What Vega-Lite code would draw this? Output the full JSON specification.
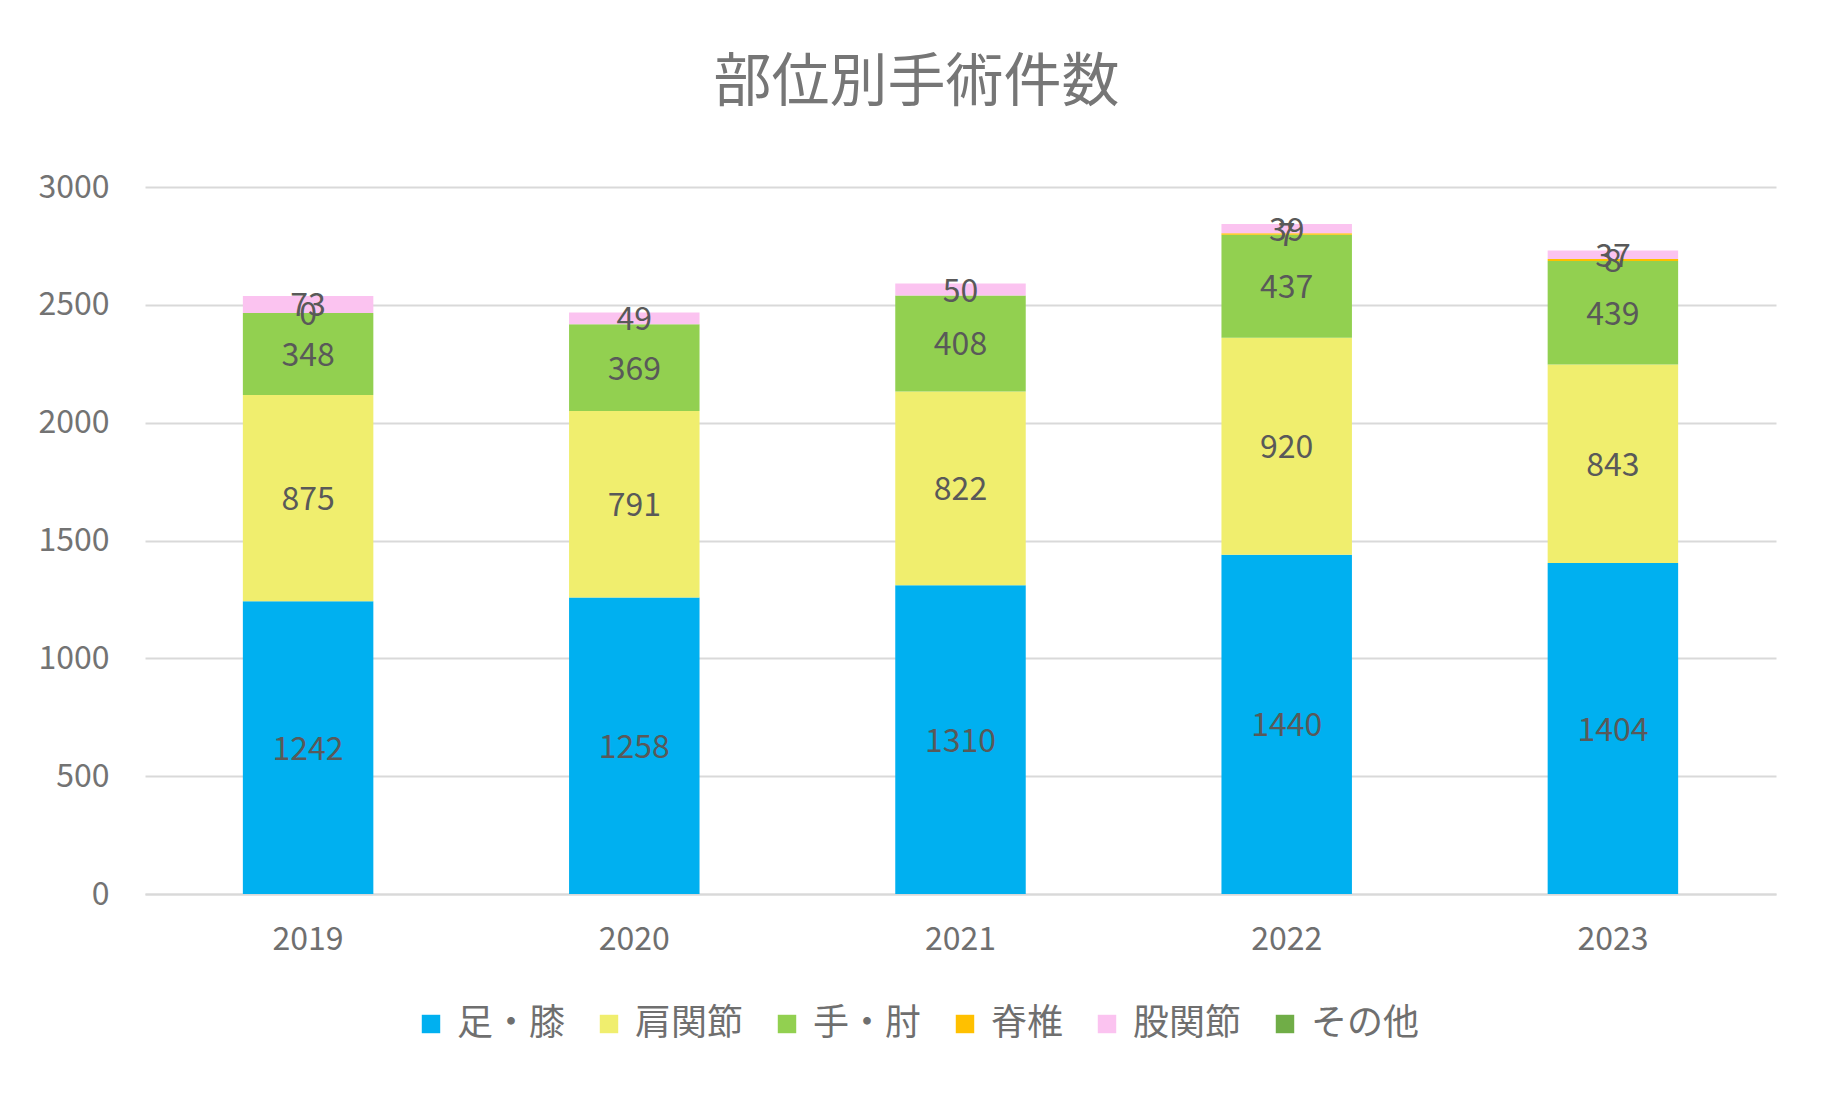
{
  "$schema": "https://vega.github.io/schema/vega-lite/v6.json",
  "width": 1631,
  "height": 707,
  "autosize": "none",
  "padding": {"left": 145, "top": 187, "right": 54, "bottom": 200},
  "background": "white",
  "config": {"view": {"stroke": null}},
  "title": {
    "text": "部位別手術件数",
    "font": "Noto Sans CJK JP",
    "fontSize": 58,
    "fontWeight": "normal",
    "color": "#767676",
    "anchor": "middle",
    "dx": -44,
    "offset": 58
  },
  "data": {
    "values": [
      {"year": "2019", "part": "足・膝", "count": 1242},
      {"year": "2019", "part": "肩関節", "count": 875},
      {"year": "2019", "part": "手・肘", "count": 348},
      {"year": "2019", "part": "脊椎", "count": 0},
      {"year": "2019", "part": "股関節", "count": 73},
      {"year": "2020", "part": "足・膝", "count": 1258},
      {"year": "2020", "part": "肩関節", "count": 791},
      {"year": "2020", "part": "手・肘", "count": 369},
      {"year": "2020", "part": "股関節", "count": 49},
      {"year": "2021", "part": "足・膝", "count": 1310},
      {"year": "2021", "part": "肩関節", "count": 822},
      {"year": "2021", "part": "手・肘", "count": 408},
      {"year": "2021", "part": "股関節", "count": 50},
      {"year": "2022", "part": "足・膝", "count": 1440},
      {"year": "2022", "part": "肩関節", "count": 920},
      {"year": "2022", "part": "手・肘", "count": 437},
      {"year": "2022", "part": "脊椎", "count": 7},
      {"year": "2022", "part": "股関節", "count": 39},
      {"year": "2023", "part": "足・膝", "count": 1404},
      {"year": "2023", "part": "肩関節", "count": 843},
      {"year": "2023", "part": "手・肘", "count": 439},
      {"year": "2023", "part": "脊椎", "count": 8},
      {"year": "2023", "part": "股関節", "count": 37}
    ]
  },
  "transform": [
    {"stack": "count", "groupby": ["year"], "as": ["y0", "y1"]},
    {"calculate": "(datum.y0 + datum.y1) / 2", "as": "label_y"}
  ],
  "encoding": {
    "x": {
      "field": "year",
      "type": "ordinal",
      "scale": {"paddingInner": 0.6, "paddingOuter": 0.3},
      "axis": {
        "title": null,
        "labelAngle": 0,
        "labelFont": "Noto Sans CJK JP",
        "labelFontSize": 32,
        "labelColor": "#6f6f6f",
        "labelPadding": 30,
        "ticks": false,
        "domainColor": "#d9d9d9",
        "domainWidth": 2
      }
    }
  },
  "layer": [
    {
      "mark": {"type": "bar"},
      "encoding": {
        "y": {
          "field": "y0",
          "type": "quantitative",
          "scale": {"domain": [0, 3000]},
          "axis": {
            "title": null,
            "format": "d",
            "values": [0, 500, 1000, 1500, 2000, 2500, 3000],
            "domain": false,
            "ticks": false,
            "gridColor": "#d9d9d9",
            "gridWidth": 2,
            "labelFont": "Noto Sans CJK JP",
            "labelFontSize": 32,
            "labelColor": "#737373",
            "labelPadding": 36
          }
        },
        "y2": {"field": "y1"},
        "color": {
          "field": "part",
          "type": "nominal",
          "scale": {
            "domain": ["足・膝", "肩関節", "手・肘", "脊椎", "股関節", "その他"],
            "range": ["#00B0F0", "#F0EE6E", "#92D050", "#FFC000", "#FBC3F0", "#70AD47"]
          },
          "legend": {
            "title": null,
            "orient": "none",
            "direction": "horizontal",
            "legendX": 268,
            "legendY": 819,
            "symbolType": "square",
            "symbolSize": 340,
            "symbolStrokeWidth": 0,
            "labelFont": "Noto Sans CJK JP",
            "labelFontSize": 36,
            "labelColor": "#6f6f6f",
            "labelOffset": 8,
            "columnPadding": 25
          }
        }
      }
    },
    {
      "mark": {
        "type": "text",
        "font": "Noto Sans CJK JP",
        "fontSize": 32,
        "color": "#595959",
        "baseline": "middle",
        "align": "center",
        "dy": 2
      },
      "encoding": {
        "y": {"field": "label_y", "type": "quantitative"},
        "text": {"field": "count", "type": "quantitative"}
      }
    }
  ]
}
